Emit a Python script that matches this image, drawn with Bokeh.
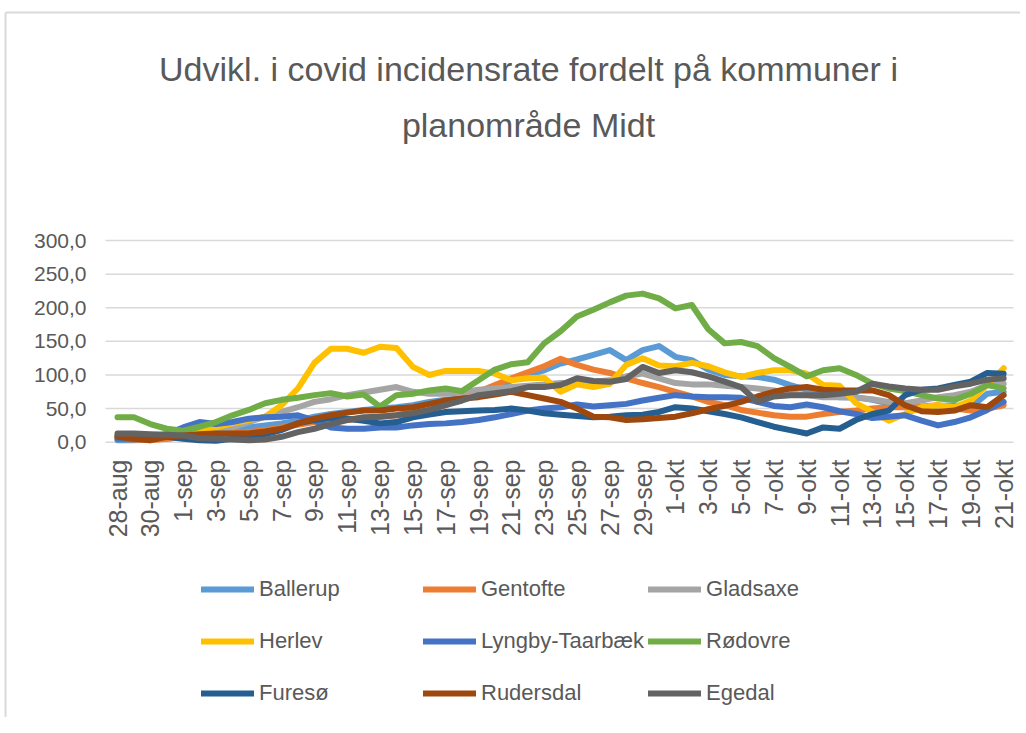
from math import pi
from bokeh.plotting import figure
from bokeh.models import (Range1d, Legend, LegendItem, Label, ColumnDataSource)
from bokeh.core.properties import value
from bokeh.embed import file_html
from bokeh.resources import INLINE

dates = (["28-aug", "29-aug", "30-aug", "31-aug"]
         + [f"{d}-sep" for d in range(1, 31)]
         + [f"{d}-okt" for d in range(1, 22)])

names = ["Ballerup", "Gentofte", "Gladsaxe", "Herlev", "Lyngby-Taarbæk",
         "Rødovre", "Furesø", "Rudersdal", "Egedal"]

ballerup = [3, 3, 4, 5, 8, 12, 15, 18, 22, 25, 28, 32, 38, 42, 45, 48, 50, 52, 55, 60,
            63, 65, 70, 80, 92, 100, 107, 117, 123, 130, 137, 122, 137, 143, 127, 122, 108, 100, 98, 97,
            93, 85, 78, 70, 67, 67, 63, 58, 52, 52, 54, 55, 52, 72, 75]
gentofte = [5, 4, 3, 5, 8, 10, 12, 14, 15, 18, 22, 26, 30, 32, 33, 35, 38, 40, 45, 48,
            55, 65, 75, 85, 95, 104, 113, 124, 115, 108, 103, 95, 88, 82, 75, 68, 60, 55, 48, 44,
            40, 38, 38, 42, 45, 47, 50, 52, 52, 53, 55, 50, 47, 50, 55]
gladsaxe = [8, 8, 8, 10, 12, 15, 18, 22, 30, 38, 45, 52, 60, 64, 70, 74, 78, 82, 75, 72,
            72, 74, 78, 80, 82, 84, 86, 88, 88, 90, 92, 98, 102, 95, 88, 86, 86, 84, 82, 80,
            77, 73, 70, 67, 67, 66, 64, 60, 58, 62, 67, 70, 75, 85, 87]
herlev = [10, 8, 10, 12, 15, 18, 22, 28, 33, 38, 55, 80, 118, 139, 139, 133, 142, 140, 112, 100,
          106, 106, 106, 102, 92, 95, 96, 75, 86, 82, 87, 115, 125, 114, 113, 118, 113, 104, 97, 103,
          107, 107, 102, 85, 84, 58, 45, 32, 42, 52, 55, 52, 62, 85, 110]
lyngby = [5, 5, 8, 12, 22, 30, 27, 30, 35, 37, 38, 40, 32, 22, 20, 20, 22, 22, 25, 27,
          28, 30, 33, 37, 42, 47, 50, 52, 56, 53, 55, 57, 62, 66, 70, 68, 67, 67, 66, 60,
          54, 52, 56, 52, 46, 42, 36, 38, 40, 32, 25, 30, 37, 48, 60]
rodovre = [37, 37, 27, 20, 17, 23, 30, 40, 48, 58, 63, 66, 70, 73, 68, 71, 53, 70, 72, 77,
           80, 76, 92, 108, 116, 119, 147, 165, 187, 197, 208, 218, 221, 214, 199, 204, 168, 147, 149, 143,
           125, 112, 98, 107, 110, 100, 87, 80, 76, 70, 65, 63, 72, 85, 80]
fureso = [10, 10, 8, 8, 5, 3, 2, 5, 10, 12, 18, 28, 33, 36, 35, 32, 28, 30, 37, 41,
          45, 46, 47, 48, 50, 47, 43, 41, 39, 37, 38, 40, 41, 45, 52, 50, 46, 42, 37, 30,
          23, 18, 13, 22, 20, 33, 42, 47, 70, 78, 80, 85, 90, 103, 102]
rudersdal = [8, 5, 3, 8, 10, 12, 13, 13, 13, 16, 20, 28, 35, 40, 44, 47, 47, 50, 52, 57,
             62, 65, 67, 71, 75, 70, 65, 60, 50, 38, 37, 33, 34, 36, 38, 43, 49, 54, 60, 68,
             75, 80, 82, 78, 77, 77, 77, 70, 55, 46, 45, 47, 55, 52, 70]
egedal = [13, 13, 12, 11, 10, 6, 5, 4, 3, 4, 8, 15, 20, 27, 33, 37, 38, 40, 43, 48,
          55, 62, 70, 73, 76, 82, 82, 85, 95, 91, 90, 94, 112, 103, 107, 104, 98, 90, 82, 60,
          68, 70, 70, 70, 72, 75, 87, 83, 80, 78, 78, 83, 87, 93, 95]

series = [ballerup, gentofte, gladsaxe, herlev, lyngby, rodovre, fureso, rudersdal, egedal]
colors = ["#5B9BD5", "#ED7D31", "#A5A5A5", "#FFC000", "#4472C4",
          "#70AD47", "#255E91", "#9E480E", "#636363"]

y_ticks = [0, 50, 100, 150, 200, 250, 300]
y_tick_labels = ["0,0", "50,0", "100,0", "150,0", "200,0", "250,0", "300,0"]
title_lines = ["Udvikl. i covid incidensrate fordelt på kommuner i", "planområde Midt"]

FONT = "Liberation Sans"
TXT = "#595959"
GRID = "#D9D9D9"

# canvas geometry (the plot frame covers the whole canvas)
W, H = 1020, 717
X0_PX, X_STEP = 117.0, 16.41     # canvas column of first category, px per category
ZERO_PX, Y_STEP = 441.7, 0.6723  # canvas row of value 0, px per value unit


def dx(px):
    return (px - X0_PX) / X_STEP


def dy(py):
    return (ZERO_PX - py) / Y_STEP


p = figure(width=W, height=H, output_backend="svg", toolbar_location=None,
           title=None,
           x_range=Range1d(dx(0), dx(W)), y_range=Range1d(dy(H), dy(0)),
           min_border_left=0, min_border_right=0, min_border_top=0,
           min_border_bottom=0)
p.outline_line_color = None
p.background_fill_color = "white"
p.border_fill_color = "white"
p.xaxis.visible = False
p.yaxis.visible = False
p.xgrid.grid_line_color = None
p.ygrid.grid_line_color = None

# chart-area border (top and left edges visible in the reference)
p.segment(x0=[dx(5), dx(5)], y0=[dy(12), dy(12)], x1=[dx(W), dx(5)], y1=[dy(12), dy(H)],
          line_color=GRID, line_width=2)

# horizontal gridlines at the value ticks
n_ticks = len(y_ticks)
p.segment(x0=[dx(105)] * n_ticks, y0=y_ticks, x1=[dx(1013)] * n_ticks, y1=y_ticks,
          line_color=GRID, line_width=1.5)

# value-axis labels
p.text(x=[dx(86)] * n_ticks, y=y_ticks, text=y_tick_labels,
       text_align="right", text_baseline="middle",
       text_font=value(FONT), text_font_size="21px", text_color=TXT)

xs = list(range(len(dates)))
renderers = []
for vals, c in zip(series, colors):
    r = p.line(xs, vals, line_color=c, line_width=6, line_join="round", line_cap="round")
    renderers.append(r)

# category (date) labels, rotated, every second day
tick_idx = list(range(0, len(dates), 2))
lab_src = ColumnDataSource(dict(x=tick_idx, y=[dy(459)] * len(tick_idx),
                                text=[dates[i] for i in tick_idx]))
p.text(x="x", y="y", text="text", source=lab_src, angle=pi / 2,
       text_align="right", text_baseline="middle",
       text_font=value(FONT), text_font_size="25px", text_color=TXT)

# title (two centred lines)
for t, yy in zip(title_lines, [H - 68, H - 124]):
    p.add_layout(Label(x=528, y=yy, x_units="screen", y_units="screen", text=t,
                       text_align="center", text_baseline="alphabetic",
                       text_font=FONT, text_font_size="34px", text_color=TXT))

legend = Legend(items=[LegendItem(label=n, renderers=[r]) for n, r in zip(names, renderers)],
                orientation="horizontal", ncols=3, location=(201, 0))
legend.label_text_font = FONT
legend.label_text_font_size = "22px"
legend.label_text_color = TXT
legend.glyph_width = 53
legend.glyph_height = 48
legend.label_height = 48
legend.label_width = 160
legend.label_standoff = 5
legend.spacing = 4
legend.padding = 0
legend.margin = 0
legend.border_line_color = None
legend.background_fill_alpha = 0
p.add_layout(legend, "center")

open("out.html", "w").write(file_html(p, INLINE))
